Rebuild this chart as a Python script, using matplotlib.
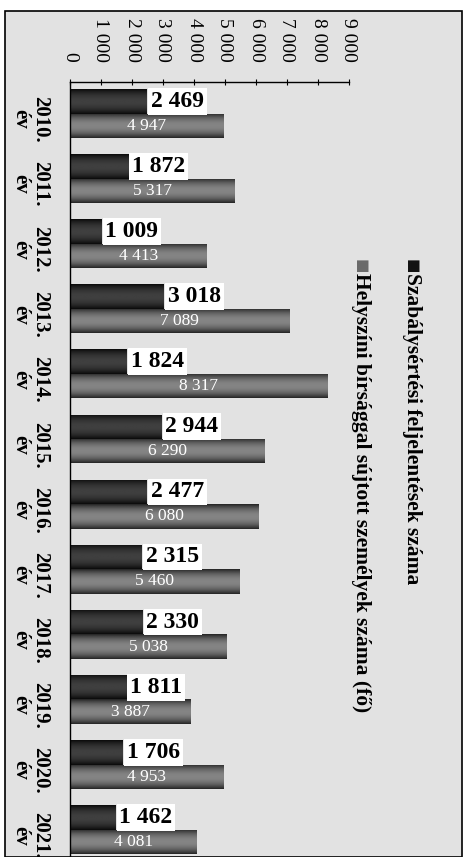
import numpy as np
import matplotlib.pyplot as plt
from matplotlib.patches import Rectangle

plt.rcParams['font.family'] = ['Liberation Serif', 'DejaVu Sans']

years = ['2010.', '2011.', '2012.', '2013.', '2014.', '2015.',
         '2016.', '2017.', '2018.', '2019.', '2020.', '2021.']
feljelentes = [2469, 1872, 1009, 3018, 1824, 2944, 2477, 2315, 2330, 1811, 1706, 1462]
helyszini = [4947, 5317, 4413, 7089, 8317, 6290, 6080, 5460, 5038, 3887, 4953, 4081]
value_ticks = [0, 1000, 2000, 3000, 4000, 5000, 6000, 7000, 8000, 9000]
legend_names = ['Szabálysértési feljelentések száma',
                'Helyszíni bírsággal sújtott személyek száma (fő)']

W, H = 467, 857
fig = plt.figure(figsize=(W / 100, H / 100), dpi=100, facecolor='white')

# scanned page frame
fig.add_artist(Rectangle((5 / W, 0), 457 / W, 1 - 11 / H, transform=fig.transFigure,
                         facecolor='#e2e2e2', edgecolor='black', lw=1.2, zorder=0))

ax = fig.add_axes([70 / W, 0, 279 / W, 1 - 82 / H])
ax.set_facecolor('none')

def fmt(v):
    return f'{v:,}'.replace(',', ' ')

def shade(bars, lo, hi):
    # cylinder like shading: dark edges, lighter middle
    t = np.linspace(-1, 1, 40)
    prof = (lo + (hi - lo) * (1 - t ** 2))[:, None]
    for b in bars:
        x0, y0 = b.get_x(), b.get_y()
        im = ax.imshow(prof, cmap='gray', vmin=0, vmax=1, aspect='auto',
                       extent=[x0, x0 + b.get_width(), y0 + b.get_height(), y0],
                       zorder=2.5, interpolation='bilinear')
        im.set_clip_path(b)

pos = np.arange(len(years))
bh = 0.376
b1 = ax.barh(pos - bh / 2, feljelentes, height=bh, color='#1c1c1c', zorder=2)
b2 = ax.barh(pos + bh / 2, helyszini, height=bh, color='#5a5a5a', zorder=2)
shade(b1, 0.05, 0.25)
shade(b2, 0.15, 0.52)

for i in range(len(years)):
    ax.annotate(fmt(feljelentes[i]), (feljelentes[i], i - bh / 2),
                xytext=(3, 0), textcoords='offset points', ha='left', va='center',
                fontsize=17, fontweight='bold', zorder=4,
                bbox=dict(boxstyle='square,pad=0.12', fc='white', ec='none'))
    ax.text(helyszini[i] / 2, i + bh / 2, fmt(helyszini[i]),
            ha='center', va='center', color='white', fontsize=12.5, zorder=4)

ax.set_xlim(0, 9000)
ax.set_ylim(-0.484 + 775 / 65.1, -0.484)

ax.xaxis.tick_top()
ax.set_xticks(value_ticks)
ax.set_xticklabels([fmt(v) for v in value_ticks], rotation=-90, fontsize=14)
ax.tick_params(axis='x', direction='inout', length=5, pad=12)

ax.set_yticks(pos)
ax.set_yticklabels([y + '\név' for y in years], rotation=-90, fontsize=15,
                   fontweight='bold', multialignment='center', linespacing=1.0)
ax.tick_params(axis='y', length=0, pad=14)

for s in ['right', 'bottom']:
    ax.spines[s].set_visible(False)
for s in ['top', 'left']:
    ax.spines[s].set_color('black')
    ax.spines[s].set_linewidth(1)

# legend drawn as rotated text, like the scanned page
leg_x = [412 / W, 361 / W]
leg_col = ['#111111', '#6a6a6a']
for k in range(2):
    fig.text(leg_x[k], 1 - 259 / H, '■', family='DejaVu Sans', color=leg_col[k],
             fontsize=11, rotation=-90, ha='center', va='top')
    fig.text(leg_x[k], 1 - 273 / H, legend_names[k], fontsize=15.5, fontweight='bold',
             rotation=-90, ha='center', va='top')

fig.savefig('out.png', dpi=100, facecolor=fig.get_facecolor())
